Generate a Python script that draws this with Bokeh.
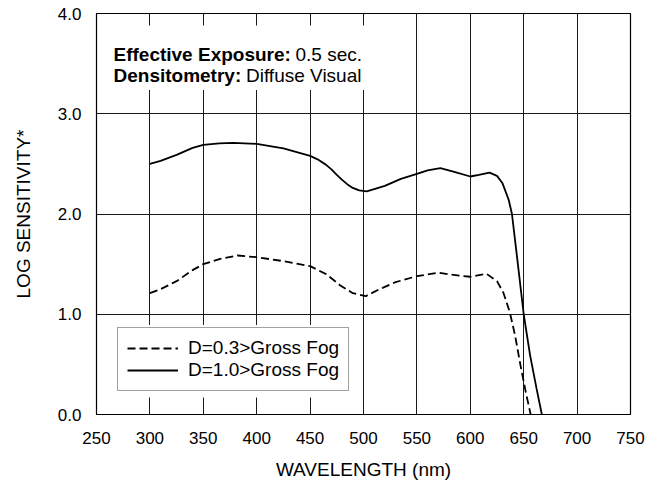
from bokeh.plotting import figure
from bokeh.models import (FixedTicker, PrintfTickFormatter, Legend, LegendItem,
                          Label, BoxAnnotation, Range1d)
from bokeh.embed import file_html
from bokeh.resources import INLINE

# ---- data ----
x_ticks = [250, 300, 350, 400, 450, 500, 550, 600, 650, 700, 750]
y_ticks = [0.0, 1.0, 2.0, 3.0, 4.0]

solid_label = "D=1.0>Gross Fog"
solid_x = [300, 310, 325, 340, 350, 365, 378, 400, 425, 450, 457, 465, 470, 475,
           480, 485, 490, 496, 503, 520, 535, 550, 560, 572, 585, 600, 608, 618,
           625, 630, 636, 639, 644, 650, 656, 662, 667]
solid_y = [2.50, 2.53, 2.59, 2.66, 2.69, 2.705, 2.71, 2.70, 2.655, 2.58, 2.545,
           2.49, 2.445, 2.39, 2.34, 2.295, 2.26, 2.235, 2.225, 2.28, 2.35, 2.40,
           2.435, 2.457, 2.42, 2.374, 2.39, 2.413, 2.38, 2.31, 2.14, 2.00, 1.55,
           1.00, 0.59, 0.26, 0.0]

dash_label = "D=0.3>Gross Fog"
dash_x = [300, 310, 325, 340, 350, 365, 382, 400, 425, 450, 465, 478, 490, 502,
          515, 530, 550, 570, 590, 600, 608, 615, 625, 631, 637, 642, 647, 652,
          656.5]
dash_y = [1.21, 1.25, 1.33, 1.44, 1.50, 1.55, 1.586, 1.569, 1.53, 1.48, 1.40,
          1.29, 1.21, 1.18, 1.25, 1.32, 1.38, 1.414, 1.385, 1.374, 1.39, 1.405,
          1.33, 1.215, 1.02, 0.785, 0.49, 0.22, 0.0]

FONT = "Liberation Sans"

p = figure(width=650, height=482, x_range=Range1d(250, 750), y_range=Range1d(0, 4),
           output_backend="svg", toolbar_location=None,
           min_border_left=96, min_border_right=20, min_border_top=13,
           min_border_bottom=66)
p.background_fill_color = "white"
p.border_fill_color = "white"
p.outline_line_color = "black"
p.outline_line_width = 1.2
p.outline_line_alpha = 1.0

p.xaxis.ticker = FixedTicker(ticks=x_ticks)
p.yaxis.ticker = FixedTicker(ticks=y_ticks)
p.yaxis.formatter = PrintfTickFormatter(format="%.1f")

for ax in (p.xaxis[0], p.yaxis[0]):
    ax.axis_line_color = None
    ax.major_tick_line_color = None
    ax.minor_tick_line_color = None
    ax.major_tick_out = 0
    ax.major_tick_in = 0
    ax.major_label_text_font = FONT
    ax.major_label_text_font_size = "17px"
    ax.major_label_text_color = "black"
    ax.axis_label_text_font = FONT
    ax.axis_label_text_font_size = "19px"
    ax.axis_label_text_font_style = "normal"
    ax.axis_label_text_color = "black"

p.xaxis.axis_label = "WAVELENGTH (nm)"
p.yaxis.axis_label = "LOG SENSITIVITY*"
p.xaxis.major_label_standoff = 17
p.xaxis.axis_label_standoff = 12
p.yaxis.major_label_standoff = 15
p.yaxis.axis_label_standoff = 21

for g in (p.xgrid[0], p.ygrid[0]):
    g.grid_line_color = "#1a1a1a"
    g.grid_line_width = 1
    g.grid_line_alpha = 1.0

r_dash = p.line(dash_x, dash_y, line_color="black", line_width=1.8, line_dash="8 4")
r_solid = p.line(solid_x, solid_y, line_color="black", line_width=1.8)

# white panels behind the note and the legend
p.add_layout(BoxAnnotation(left=261.2, right=504.7, bottom=3.236, top=3.881,
                           fill_color="white", fill_alpha=1.0, line_color=None))
p.add_layout(BoxAnnotation(left=265, right=491.6, bottom=0.169, top=0.893,
                           fill_color="white", fill_alpha=1.0, line_color=None))

# annotation text
for (txt, y, dx, bold) in [("Effective Exposure:", 3.593, 0, True),
                           ("0.5 sec.", 3.593, 182, False),
                           ("Densitometry:", 3.385, 0, True),
                           ("Diffuse Visual", 3.385, 132.5, False)]:
    p.add_layout(Label(x=265.9, y=y, x_offset=dx, text=txt, text_font=FONT,
                       text_font_size="19px",
                       text_font_style="bold" if bold else "normal",
                       text_color="black", text_baseline="alphabetic",
                       text_align="left"))

legend = Legend(items=[LegendItem(label=dash_label, renderers=[r_dash]),
                       LegendItem(label=solid_label, renderers=[r_solid])],
                location=(21, 23), margin=0, padding=9, spacing=0,
                glyph_width=51, glyph_height=22, label_height=22,
                label_standoff=10, label_text_font=FONT,
                label_text_font_size="19px", label_text_color="black",
                border_line_color="#444444", border_line_width=1,
                background_fill_color="white", background_fill_alpha=1.0)
p.add_layout(legend)

open("out.html", "w").write(file_html(p, INLINE))
